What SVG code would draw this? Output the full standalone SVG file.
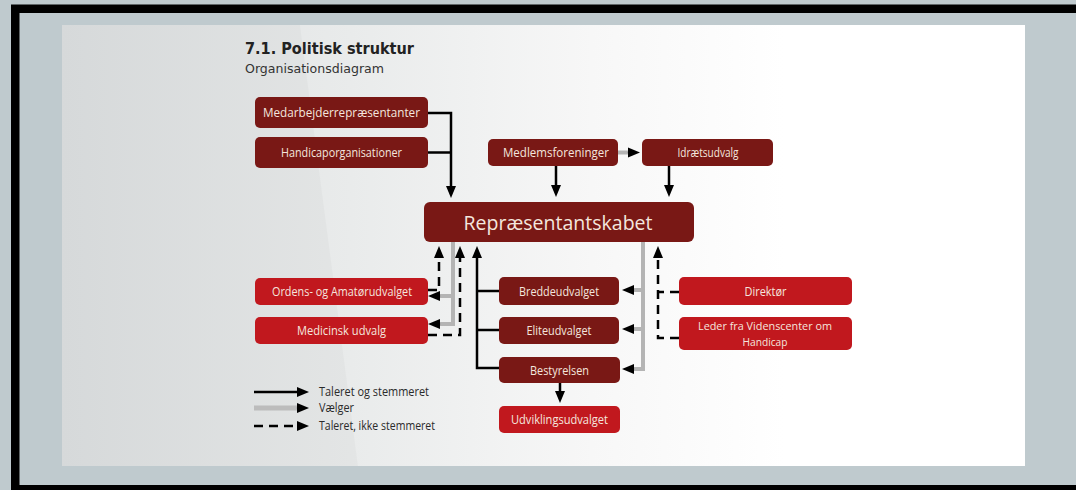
<svg xmlns="http://www.w3.org/2000/svg" width="1076" height="490" viewBox="0 0 1076 490">
  <defs>
    <linearGradient id="panelGrad" x1="0" y1="0" x2="1" y2="0">
      <stop offset="0" stop-color="#dcdfe0"/>
      <stop offset="0.3" stop-color="#e9ebeb"/>
      <stop offset="0.55" stop-color="#f7f7f7"/>
      <stop offset="0.75" stop-color="#ffffff"/>
      <stop offset="1" stop-color="#ffffff"/>
    </linearGradient>
    <marker id="ah" markerUnits="userSpaceOnUse" markerWidth="14" markerHeight="12" refX="0" refY="5" orient="auto" overflow="visible">
      <path d="M0,0 L12,5 L0,10 Z" fill="#000"/>
    </marker>
    <style>
      .dark { fill: #791815; }
      .red { fill: #c1181e; }
      .lbl { font-family: "Open Sans", "Liberation Sans", sans-serif; font-size: 12.5px; fill: #f4e6de; text-anchor: middle; }
      .big { font-size: 20px; }
      .two { font-size: 11.5px; }
      .solid { fill: none; stroke: #000; stroke-width: 2.5; }
      .gray { fill: none; stroke: #b4b4b4; stroke-width: 4; }
      .dash { fill: none; stroke: #000; stroke-width: 2.5; stroke-dasharray: 9 6; }
      .leg { font-family: "Open Sans", "Liberation Sans", sans-serif; font-size: 12.5px; fill: #2a2a2a; }
    </style>
  </defs>

  <!-- frame -->
  <rect x="0" y="0" width="1076" height="490" fill="#bfcace"/>
  <rect x="11" y="4.5" width="1100" height="500" fill="#000"/>
  <rect x="19.5" y="13" width="1100" height="472" fill="#bfcace"/>
  <rect x="62" y="25" width="963" height="441" fill="url(#panelGrad)"/>
  <polygon points="62,25 300,25 358,466 62,466" fill="#000" opacity="0.025"/>

  <!-- titles -->
  <text x="245" y="54" font-family="DejaVu Sans, Verdana, sans-serif" font-weight="bold" font-size="15" fill="#222" textLength="169" lengthAdjust="spacingAndGlyphs">7.1. Politisk struktur</text>
  <text x="245" y="73" font-family="DejaVu Sans, Verdana, sans-serif" font-size="12.5" fill="#333" textLength="139" lengthAdjust="spacingAndGlyphs">Organisationsdiagram</text>

  <!-- connectors -->
  <g id="connectors">
    <path class="solid" d="M428,113 H451 V186" marker-end="url(#ah)"/>
    <path class="solid" d="M428,152.5 H451"/>
    <path class="solid" d="M556,166 V185" marker-end="url(#ah)"/>
    <path class="solid" d="M669,166 V185" marker-end="url(#ah)"/>
    <path class="gray" d="M618,152.5 H628"/>
    <path d="M627,152.5 H628" stroke="#000" stroke-width="0.1" marker-end="url(#ah)"/>

    <!-- left gray (Vælger) -->
    <path class="gray" d="M453,242 V324 H440"/>
    <path class="gray" d="M453,296 H440"/>
    <path d="M441,296 H440" stroke="#000" stroke-width="0.1" marker-end="url(#ah)"/>
    <path d="M441,324 H440" stroke="#000" stroke-width="0.1" marker-end="url(#ah)"/>

    <!-- left dashed -->
    <path class="dash" d="M428,290 H439 V258" marker-end="url(#ah)"/>
    <path class="dash" d="M428,335 H460 V258" marker-end="url(#ah)"/>

    <!-- black solid committees -->
    <path class="solid" d="M499,368 H477 V258" marker-end="url(#ah)"/>
    <path class="solid" d="M499,291 H477"/>
    <path class="solid" d="M499,330 H477"/>

    <!-- right gray -->
    <path class="gray" d="M643,242 V369 H634"/>
    <path class="gray" d="M643,290 H634"/>
    <path class="gray" d="M643,329 H634"/>
    <path d="M635,290 H634" stroke="#000" stroke-width="0.1" marker-end="url(#ah)"/>
    <path d="M635,329 H634" stroke="#000" stroke-width="0.1" marker-end="url(#ah)"/>
    <path d="M635,369 H634" stroke="#000" stroke-width="0.1" marker-end="url(#ah)"/>

    <!-- right dashed -->
    <path class="dash" d="M679,338 H658 V258" marker-end="url(#ah)"/>
    <path class="dash" d="M679,292 H658"/>

    <!-- Bestyrelsen -> Udviklingsudvalget -->
    <path class="solid" d="M560,383 V391" marker-end="url(#ah)"/>
  </g>

  <!-- nodes -->
  <g id="medarbejder">
    <rect class="dark" x="255" y="97" width="173" height="31" rx="5"/>
    <text class="lbl" x="341.5" y="117" textLength="157" lengthAdjust="spacingAndGlyphs">Medarbejderrepræsentanter</text>
  </g>
  <g id="handicaporg">
    <rect class="dark" x="255" y="137" width="173" height="31" rx="5"/>
    <text class="lbl" x="341.5" y="157" textLength="121" lengthAdjust="spacingAndGlyphs">Handicaporganisationer</text>
  </g>
  <g id="medlemsforeninger">
    <rect class="dark" x="488" y="139" width="130" height="27" rx="5"/>
    <text class="lbl" x="556" y="157" textLength="106" lengthAdjust="spacingAndGlyphs">Medlemsforeninger</text>
  </g>
  <g id="idraetsudvalg">
    <rect class="dark" x="642" y="139" width="131" height="27" rx="5"/>
    <text class="lbl" x="708" y="157" textLength="61" lengthAdjust="spacingAndGlyphs">Idrætsudvalg</text>
  </g>
  <g id="repraesentantskabet">
    <rect class="dark" x="424" y="202" width="270" height="40" rx="6"/>
    <text class="lbl big" x="558" y="230" textLength="189" lengthAdjust="spacingAndGlyphs">Repræsentantskabet</text>
  </g>
  <g id="ordens">
    <rect class="red" x="255" y="278" width="173" height="27" rx="5"/>
    <text class="lbl" x="342" y="296" textLength="140" lengthAdjust="spacingAndGlyphs">Ordens- og Amatørudvalget</text>
  </g>
  <g id="medicinsk">
    <rect class="red" x="255" y="317" width="173" height="27" rx="5"/>
    <text class="lbl" x="341.5" y="335" textLength="89" lengthAdjust="spacingAndGlyphs">Medicinsk udvalg</text>
  </g>
  <g id="breddeudvalget">
    <rect class="dark" x="499" y="277" width="120" height="28" rx="5"/>
    <text class="lbl" x="559" y="295.5" textLength="80" lengthAdjust="spacingAndGlyphs">Breddeudvalget</text>
  </g>
  <g id="eliteudvalget">
    <rect class="dark" x="499" y="317" width="120" height="27" rx="5"/>
    <text class="lbl" x="559" y="335" textLength="65" lengthAdjust="spacingAndGlyphs">Eliteudvalget</text>
  </g>
  <g id="bestyrelsen">
    <rect class="dark" x="499" y="357" width="121" height="26" rx="5"/>
    <text class="lbl" x="559.5" y="374.5" textLength="59" lengthAdjust="spacingAndGlyphs">Bestyrelsen</text>
  </g>
  <g id="udviklingsudvalget">
    <rect class="red" x="499" y="406" width="121" height="27" rx="5"/>
    <text class="lbl" x="559.5" y="424" textLength="97" lengthAdjust="spacingAndGlyphs">Udviklingsudvalget</text>
  </g>
  <g id="direktoer">
    <rect class="red" x="679" y="277" width="173" height="28" rx="5"/>
    <text class="lbl" x="765.5" y="295.5" textLength="42" lengthAdjust="spacingAndGlyphs">Direktør</text>
  </g>
  <g id="leder">
    <rect class="red" x="679" y="317" width="173" height="33" rx="5"/>
    <text class="lbl two" x="765" y="329.5" textLength="134" lengthAdjust="spacingAndGlyphs">Leder fra Videnscenter om</text>
    <text class="lbl two" x="765" y="345.5" textLength="45" lengthAdjust="spacingAndGlyphs">Handicap</text>
  </g>

  <!-- legend -->
  <g id="legend">
    <path class="solid" d="M254,392 H297" marker-end="url(#ah)"/>
    <path d="M254,408 H297" fill="none" stroke="#bcbcbc" stroke-width="5"/>
    <path d="M296,408 H297" stroke="#000" stroke-width="0.1" marker-end="url(#ah)"/>
    <path class="dash" d="M254,426 H297" stroke-dasharray="10 5.5" marker-end="url(#ah)"/>
    <text class="leg" x="319" y="396" textLength="110" lengthAdjust="spacingAndGlyphs">Taleret og stemmeret</text>
    <text class="leg" x="319" y="412" textLength="35" lengthAdjust="spacingAndGlyphs">Vælger</text>
    <text class="leg" x="319" y="430" textLength="116" lengthAdjust="spacingAndGlyphs">Taleret, ikke stemmeret</text>
  </g>
</svg>
